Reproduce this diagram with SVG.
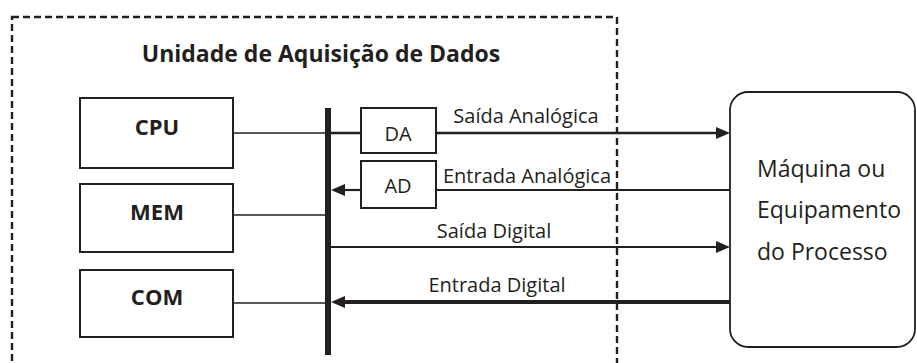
<svg xmlns="http://www.w3.org/2000/svg" width="917" height="363" viewBox="0 0 917 363">
<defs>
<marker id="arr" viewBox="0 0 14 12" refX="2" refY="6" markerWidth="14" markerHeight="12" markerUnits="userSpaceOnUse" orient="auto">
<path d="M0,0 L14,6 L0,12 z" fill="#231f20"/>
</marker>
</defs>
<style>
text{font-family:"Open Sans","Liberation Sans",sans-serif;fill:#231f20}
.t{font-size:20px;text-anchor:middle}
.b{font-size:22px;font-weight:bold;text-anchor:middle}
.m{font-size:23px}
.box{fill:#fff;stroke:#231f20;stroke-width:2}
.ln{stroke:#231f20;fill:none}
</style>
<rect x="12" y="17" width="605" height="370" fill="none" stroke="#231f20" stroke-width="2.4" stroke-dasharray="7 4"/>
<text x="321" y="62" class="b" style="font-size:23px">Unidade de Aquisição de Dados</text>
<g id="connectors">
<line class="ln" x1="233" y1="133" x2="328" y2="133" stroke-width="1.4"/>
<line class="ln" x1="233" y1="215" x2="328" y2="215" stroke-width="1.4"/>
<line class="ln" x1="233" y1="303" x2="328" y2="303" stroke-width="1.4"/>
<line class="ln" x1="328" y1="133" x2="361" y2="133" stroke-width="2.6"/>
<line class="ln" x1="436" y1="133" x2="718" y2="133" stroke-width="2.6" marker-end="url(#arr)"/>
<line class="ln" x1="730" y1="190" x2="436" y2="190" stroke-width="2.2"/>
<line class="ln" x1="361" y1="190" x2="343" y2="190" stroke-width="2.2" marker-end="url(#arr)"/>
<line class="ln" x1="331" y1="247" x2="718" y2="247" stroke-width="2.2" marker-end="url(#arr)"/>
<line class="ln" x1="730" y1="302" x2="343" y2="302" stroke-width="4.2" marker-end="url(#arr)"/>
<line class="ln" x1="328" y1="108" x2="328" y2="355" stroke-width="6"/>
</g>
<text x="526" y="123" class="t">Saída Analógica</text>
<text x="527" y="183" class="t">Entrada Analógica</text>
<text x="494" y="238" class="t">Saída Digital</text>
<text x="497" y="292" class="t">Entrada Digital</text>
<g id="cpu"><rect class="box" x="80" y="98" width="153" height="70"/><text x="157" y="135" class="b">CPU</text></g>
<g id="mem"><rect class="box" x="80" y="184" width="153" height="68"/><text x="157" y="220" class="b">MEM</text></g>
<g id="com"><rect class="box" x="80" y="270" width="153" height="67"/><text x="157" y="305" class="b">COM</text></g>
<g id="da"><rect class="box" x="361" y="108" width="75" height="45"/><text x="398" y="141" class="t">DA</text></g>
<g id="ad"><rect class="box" x="361" y="161" width="75" height="47"/><text x="398" y="193" class="t">AD</text></g>
<g id="maquina"><rect x="730" y="92" width="185" height="255" rx="18" ry="18" fill="#fff" stroke="#231f20" stroke-width="1.8"/>
<text x="757" y="177" class="m">Máquina ou</text>
<text x="757" y="218" class="m">Equipamento</text>
<text x="757" y="260" class="m">do Processo</text></g>
</svg>
